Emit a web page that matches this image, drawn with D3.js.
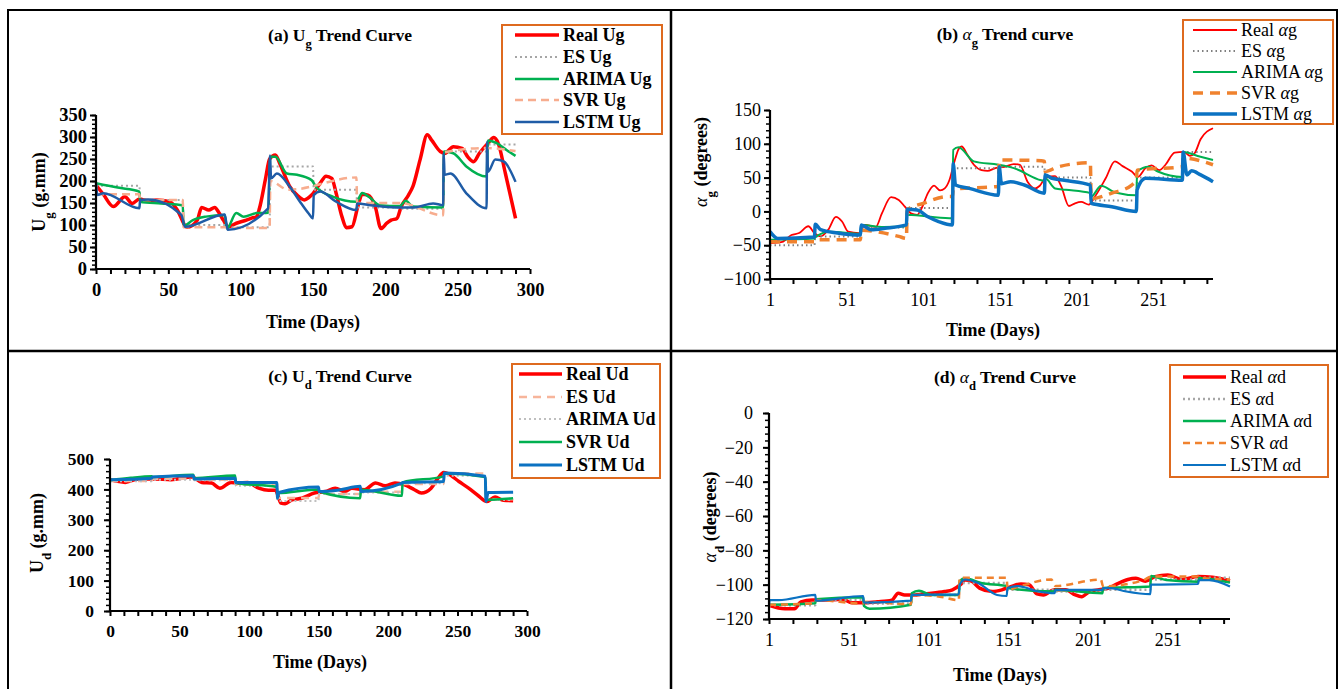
<!DOCTYPE html>
<html>
<head>
<meta charset="utf-8">
<script src="https://cdn.jsdelivr.net/npm/d3@7"></script>
<style>
  body { margin: 0; background: #fff; }
</style>
</head>
<body>
<svg id="fig" width="1341" height="689"></svg>
<script>
// ---------- data: [day, value] ----------

// (a) Ug
var realUg = [[0,191],[5,170],[12,142],[20,164],[25,149],[30,159],[36,155],[42,157],[51,153],[56,135],[63,95],[70,111],[73,140],[78,134],[82,140],[85,128],[88,111],[91.5,96],[97,104],[104,111],[108,116],[111,119],[113,138],[117,202],[120,250],[124,259],[127,240],[134,187],[139,168],[144,157],[149,168],[155,195],[159,211],[163,206],[166,172],[170,119],[173,94],[177,96],[181,142],[184,170],[188,168],[193,142],[197,92],[201,104],[204,111],[208,115],[211,142],[216,168],[219,187],[224,248],[229,305],[232,293],[238,267],[241,263],[247,278],[253,274],[257,255],[261,244],[265,263],[271,286],[275,299],[278,286],[283,217],[290,115]];
var esUg = [[0,189],[30,189],[30.5,157],[60,157],[60.5,100],[90,100],[90.5,95],[120,95],[120.5,233],[150,233],[150.5,180],[180,180],[180.5,140],[210,140],[210.5,137],[240,137],[240.5,267],[270,267],[270.5,283],[290,283]];
var arimaUg = [[0,195],[15,185],[30,176],[30.5,153],[45,149],[60,145],[60.5,98],[67,111],[76,119],[89,123],[90.5,92],[97,127],[102,119],[111,127],[119,128],[120.5,255],[124,255],[132,217],[139,214],[149,202],[152,187],[164,164],[180,153],[184,173],[189,163],[196,145],[210,143],[214,155],[219,142],[240,140],[240.5,267],[247,263],[256,233],[270,210],[271,292],[277,286],[284,270],[290,257]];
var svrUg = [[0,170],[30,170],[30.5,157],[60,157],[60.5,95],[90,95],[90.5,93],[120,93],[120.5,200],[133,180],[180,208],[180.5,150],[210,150],[240,122],[240.5,265],[270,275],[290,268]];
var lstmUg = [[0,195],[1,168],[5,172],[30,138],[30.5,157],[36,158],[59,123],[61.5,96],[89,124],[91,89],[119,138],[120.3,258],[121,206],[125,217],[134,187],[141,153],[147,126],[150,115],[150.5,168],[155,176],[166,153],[180,134],[180.5,149],[190,145],[207,140],[220,140],[233,149],[240,145],[240.3,263],[241,214],[245,217],[256,172],[270,138],[270.3,289],[271,221],[276,249],[282,244],[290,198]];

// (b) alpha g
var realAg = [[1,-47],[9,-45],[15,-35],[20,-32],[26,-22],[30,-32],[34,-37],[39,-27],[44,-8],[48,-15],[52,-30],[59,-32],[63,-20],[70,-23],[74,-3],[80,21],[85,17],[89,7],[93,-3],[97,-5],[100,5],[104,27],[108,38],[112,31],[115,34],[118,46],[121,71],[124,92],[126,96],[130,83],[134,69],[139,61],[143,60],[148,64],[154,66],[160,70],[164,69],[169,44],[174,34],[177,38],[181,50],[187,52],[191,37],[196,8],[200,12],[204,14],[209,10],[213,22],[220,49],[226,74],[231,67],[237,59],[241,51],[246,64],[250,68],[255,61],[259,69],[265,87],[271,88],[275,82],[278,86],[282,107],[290,123]];
var esAg = [[1,-50],[30,-50],[30.5,-37],[60,-37],[60.5,-24],[90,-24],[90.5,5],[120,5],[120.5,64],[150,64],[150.5,66],[180,66],[180.5,50],[210,50],[210.5,16],[240,16],[240.5,50],[270,50],[270.5,88],[290,88]];
var arimaAg = [[1,-42],[30,-40],[30.5,-38],[40,-30],[60,-33],[60.5,-20],[75,-23],[90,-22],[90.5,-5],[118,-10],[120,-10],[120.5,91],[124,95],[134,74],[150,69],[160,64],[178,46],[180,45],[180.5,49],[187,34],[194,32],[210,27],[210.5,22],[217,38],[226,28],[240,24],[240.5,59],[248,66],[254,59],[270,51],[270.5,88],[280,82],[290,76]];
var svrAg = [[1,-45],[30,-45],[30.5,-42],[60,-42],[60.5,-28],[85,-37],[90,-40],[90.5,2],[101,12],[117,22],[120,22],[120.5,33],[150,37],[150.5,76],[178,75],[180,74],[180.5,59],[189,66],[210,72],[210.5,19],[224,27],[237,39],[240,47],[240.5,61],[270,66],[270.5,79],[290,69]];
var lstmAg = [[1,-30],[6,-40],[30,-38],[30.5,-19],[34,-27],[45,-32],[60,-35],[60.5,-20],[67,-27],[76,-25],[90,-20],[90.5,3],[97,2],[104,-8],[111,-15],[120,-20],[120.5,71],[122,39],[131,34],[150,24],[150.5,66],[152,41],[158,44],[167,39],[180,27],[180.5,54],[185,49],[193,46],[210,39],[210.5,12],[224,7],[240,0],[240.5,32],[246,49],[270,46],[270.5,88],[273,54],[276,60],[282,54],[290,44]];

// (c) Ud
var realUd = [[0,432],[11,423],[20,434],[32,434],[44,432],[59,441],[66,423],[73,421],[79,404],[87,423],[92,421],[99,423],[107,404],[114,397],[119,397],[123,355],[126,353],[131,366],[138,371],[147,388],[155,393],[162,404],[169,393],[174,404],[183,399],[191,421],[198,412],[205,421],[212,415],[219,399],[224,388],[231,404],[236,437],[240,456],[243,452],[251,426],[258,404],[265,379],[271,360],[277,375],[283,364],[290,363]];
var esUd = [[0,428],[30,428],[30.5,435],[60,435],[60.5,432],[90,432],[90.5,415],[120,415],[120.5,372],[150,372],[150.5,385],[180,385],[180.5,392],[210,392],[210.5,418],[240,418],[240.5,452],[270,452],[270.5,368],[290,368]];
var arimaUd = [[0,427],[30,427],[30.5,432],[60,432],[60.5,430],[90,430],[90.5,412],[120,412],[120.5,362],[150,362],[150.5,385],[180,385],[180.5,390],[210,390],[210.5,420],[240,420],[240.5,445],[270,445],[270.5,365],[290,365]];
var svrUd = [[0,430],[15,438],[30,443],[30.5,441],[60,448],[60.5,437],[90,446],[90.5,421],[120,408],[120.5,388],[150,400],[150.5,393],[180,371],[180.5,399],[210,379],[210.5,423],[240,443],[240.5,452],[270,441],[270.5,366],[290,371]];
var lstmUd = [[0,432],[30,437],[30.5,441],[60,445],[60.5,434],[90,437],[90.5,423],[120,423],[120.5,371],[121.5,390],[150,408],[150.5,393],[165,398],[180,410],[180.5,393],[210,421],[210.5,423],[240,426],[240.5,454],[270,443],[270.5,360],[272,390],[290,391]];

// (d) alpha d
var realAd = [[1,-112],[11,-114],[17,-114],[21,-110],[28,-109],[36,-109],[47,-108.5],[53,-110.5],[61,-110.5],[69,-110],[78,-109],[82,-105],[86,-106],[92,-106],[97,-105.5],[103,-105],[111,-104],[116,-103],[121,-100],[124,-97.3],[128,-98],[133,-102],[141,-104],[147,-103],[153,-101],[159,-99.6],[164,-100],[169,-105.4],[173,-106],[180,-103],[187,-103],[193,-106],[197,-107],[202,-104],[208,-103],[214,-102],[220,-99.2],[226,-97],[231,-96.3],[237,-98],[243,-95.3],[251,-94.4],[260,-97],[270,-95.3],[279,-95.7],[290,-97.7]];
var esAd = [[1,-112],[30,-112],[30.5,-109],[60,-109],[60.5,-111],[90,-111],[90.5,-106],[120,-106],[120.5,-99],[150,-99],[150.5,-103],[180,-103],[180.5,-104],[210,-104],[210.5,-103],[240,-103],[240.5,-97],[270,-97],[270.5,-96],[290,-96]];
var arimaAd = [[1,-111.7],[30,-110.8],[30.5,-108.5],[60,-107.4],[60.5,-112.4],[64,-114],[90,-111.7],[90.5,-105],[95,-103.5],[103,-106],[120,-106],[120.5,-98],[124,-96.3],[134,-99],[150,-100.8],[150.5,-102],[180,-104],[180.5,-103],[210,-105],[210.5,-102],[240,-101],[240.5,-95],[250,-97.3],[270,-98.3],[270.5,-96.3],[290,-98.8]];
var svrAd = [[1,-111.7],[30,-110.8],[30.5,-109],[60,-111],[60.5,-110],[90,-111.4],[90.5,-106],[108,-107],[120,-109],[120.5,-96],[150,-95.9],[150.5,-103],[158,-101],[178,-97],[180.5,-100.8],[209,-97],[210.5,-101],[236,-97.3],[240.5,-95.3],[270,-95.3],[270.5,-96],[290,-97]];
var lstmAd = [[1,-112],[1.5,-109],[7,-109],[30,-106],[30.5,-109.3],[60,-106.6],[60.5,-110.5],[90,-109.3],[90.5,-106],[120,-105.6],[120.5,-100],[124,-97],[132,-99],[144,-106],[150,-106.6],[150.5,-102],[157,-100.8],[170,-104],[180,-105],[180.5,-103],[210,-103],[210.5,-102],[215,-102],[225,-104],[240,-105.5],[240.5,-100],[270,-99.6],[270.5,-97.3],[277,-97.3],[290,-101]];

// tick values
var linTicks = d3.range(0, 301, 10);
var linLabels = [0, 50, 100, 150, 200, 250, 300];
var catTicks = d3.range(1, 291, 15);
var catLabels = [1, 51, 101, 151, 201, 251];

var FONT = '"Liberation Serif", "Times New Roman", serif';
var svg = d3.select('#fig');

// frame round the four panels
svg.append('rect').attr('x', 8).attr('y', 10).attr('width', 1329).attr('height', 700)
    .attr('fill', 'none').attr('stroke', '#000').attr('stroke-width', 2);
svg.append('line').attr('x1', 671).attr('x2', 671).attr('y1', 10).attr('y2', 689)
    .attr('stroke', '#000').attr('stroke-width', 2.5);
svg.append('line').attr('x1', 8).attr('x2', 1337).attr('y1', 351).attr('y2', 351)
    .attr('stroke', '#000').attr('stroke-width', 2.5);

// text with subscript / italic alpha pieces: [text, sub?, italic?]
function richText(sel, parts) {
    parts.forEach(function (p) {
        var t = sel.append('tspan').text(p[0]);
        if (p[1]) t.attr('baseline-shift', 'sub').attr('font-size', '72%');
        if (p[2]) t.attr('font-style', 'italic').attr('font-weight', 'normal');
    });
}

function styleText(sel, p) {
    sel.selectAll('text').attr('font-family', FONT).attr('font-size', p.tickSize)
        .attr('font-weight', p.tickWeight).attr('fill', '#000');
}

function drawPanel(p) {
    var x = d3.scaleLinear().domain(p.xDomain).range(p.xRange);
    var y = d3.scaleLinear().domain(p.yDomain).range(p.yRange);
    var g = svg.append('g');

    var line = d3.line()
        .x(function (d) { return x(d[0]); })
        .y(function (d) { return y(d[1]); })
        .curve(d3.curveMonotoneX);

    // series, first legend entry at the bottom
    p.series.forEach(function (s) {
        g.append('path')
            .attr('d', line(s.data))
            .attr('fill', 'none')
            .attr('stroke', s.color)
            .attr('stroke-width', s.width)
            .attr('stroke-dasharray', s.dash || null)
            .attr('stroke-linejoin', 'round');
    });

    var x0 = p.xRange[0], y0 = p.yRange[0];

    // y axis: minor then major ticks
    g.append('g').attr('transform', 'translate(' + x0 + ',0)')
        .call(d3.axisLeft(y).tickValues(p.yMinor).tickSize(4).tickFormat(''))
        .call(function (a) { a.select('.domain').remove(); a.selectAll('line').attr('stroke-width', 1.5); });
    var ya = g.append('g').attr('transform', 'translate(' + x0 + ',0)')
        .call(d3.axisLeft(y).tickValues(p.yMajor).tickSize(6).tickPadding(p.yPad).tickFormat(d3.format('d')));
    ya.select('.domain').remove();
    ya.selectAll('line').attr('stroke-width', 2);
    styleText(ya, p);

    // x axis: tick marks, then labels on their own values
    var xt = g.append('g').attr('transform', 'translate(0,' + y0 + ')')
        .call(d3.axisBottom(x).tickValues(p.xTicks).tickSize(5).tickFormat(''));
    xt.select('.domain').remove();
    xt.selectAll('line').attr('stroke-width', 2);
    var xl = g.append('g').attr('transform', 'translate(0,' + y0 + ')')
        .call(d3.axisBottom(x).tickValues(p.xLabels).tickSize(0).tickPadding(14).tickFormat(d3.format('d')));
    xl.select('.domain').remove();
    xl.selectAll('line').remove();
    styleText(xl, p);

    // axis lines
    g.append('line').attr('x1', x0).attr('x2', x0).attr('y1', y0 + 1).attr('y2', p.yRange[1])
        .attr('stroke', '#000').attr('stroke-width', 2.2);
    g.append('line').attr('x1', x0).attr('x2', p.xRange[1]).attr('y1', y0).attr('y2', y0)
        .attr('stroke', '#000').attr('stroke-width', 2.2);

    // title and axis titles
    var t = g.append('text').attr('x', p.title.x).attr('y', p.title.y).attr('text-anchor', 'middle')
        .attr('font-family', FONT).attr('font-size', 17.5).attr('font-weight', 'bold');
    richText(t, p.title.parts);

    g.append('text').attr('x', p.xTitle.x).attr('y', p.xTitle.y).attr('text-anchor', 'middle')
        .attr('font-family', FONT).attr('font-size', 18).attr('font-weight', 'bold')
        .text('Time (Days)');

    var yt = g.append('text')
        .attr('transform', 'translate(' + p.yTitle.x + ',' + p.yTitle.y + ') rotate(-90)')
        .attr('text-anchor', 'middle')
        .attr('font-family', FONT).attr('font-size', 18).attr('font-weight', 'bold');
    richText(yt, p.yTitle.parts);

    // legend
    var L = p.legend;
    g.append('rect').attr('x', L.x).attr('y', L.y).attr('width', L.w).attr('height', L.h)
        .attr('fill', '#fff').attr('stroke', '#DE6A1F').attr('stroke-width', 2);
    p.series.forEach(function (s, i) {
        var ry = L.rows[i];
        g.append('line').attr('x1', L.lx1).attr('x2', L.lx2).attr('y1', ry).attr('y2', ry)
            .attr('stroke', s.color).attr('stroke-width', s.width)
            .attr('stroke-dasharray', s.dash || null);
        var lt = g.append('text').attr('x', L.tx).attr('y', ry).attr('dy', '0.35em')
            .attr('font-family', FONT).attr('font-size', 18).attr('font-weight', L.weight);
        richText(lt, s.label);
    });
}

var RED = '#FF0000', GREEN = '#00B050', BLUE = '#0B72C2', ORANGE = '#F0822E';

drawPanel({
    xDomain: [0, 300], xRange: [96, 530], yDomain: [0, 350], yRange: [269, 115],
    xTicks: linTicks, xLabels: linLabels,
    yMajor: d3.range(0, 351, 50), yMinor: d3.range(0, 351, 10), yPad: 3,
    tickSize: 18.5, tickWeight: 'bold',
    title: { x: 340, y: 41, parts: [['(a) U'], ['g', 1], [' Trend Curve']] },
    xTitle: { x: 313, y: 328 },
    yTitle: { x: 45, y: 192, parts: [['U'], ['g', 1], [' (g.mm)']] },
    legend: { x: 502, y: 25, w: 160, h: 109, rows: [35, 57, 79, 100, 122], lx1: 515, lx2: 559, tx: 563, weight: 'bold' },
    series: [
        { data: realUg, color: RED, width: 3.5, label: [['Real Ug']] },
        { data: esUg, color: '#A6A6A6', width: 2, dash: '2,3', label: [['ES Ug']] },
        { data: arimaUg, color: GREEN, width: 2.5, label: [['ARIMA Ug']] },
        { data: svrUg, color: '#F7AD8F', width: 2.5, dash: '8,5', label: [['SVR Ug']] },
        { data: lstmUg, color: '#1F5CA6', width: 2.5, label: [['LSTM Ug']] }
    ]
});

drawPanel({
    xDomain: [1, 290], xRange: [770, 1213], yDomain: [-100, 150], yRange: [279, 110],
    xTicks: catTicks, xLabels: catLabels,
    yMajor: d3.range(-100, 151, 50), yMinor: d3.range(-100, 151, 10), yPad: 3,
    tickSize: 18, tickWeight: 'normal',
    title: { x: 1005, y: 40, parts: [['(b) '], ['α', 0, 1], ['g', 1], [' Trend curve']] },
    xTitle: { x: 993, y: 336 },
    yTitle: { x: 707, y: 162, parts: [['α', 0, 1], ['g', 1], [' (degrees)']] },
    legend: { x: 1183, y: 20, w: 150, h: 104, rows: [30, 51, 72, 93, 114], lx1: 1193, lx2: 1237, tx: 1241, weight: 'normal' },
    series: [
        { data: realAg, color: RED, width: 1.8, label: [['Real '], ['α', 0, 1], ['g']] },
        { data: esAg, color: '#808080', width: 2, dash: '1.5,3', label: [['ES '], ['α', 0, 1], ['g']] },
        { data: arimaAg, color: GREEN, width: 2, label: [['ARIMA '], ['α', 0, 1], ['g']] },
        { data: svrAg, color: ORANGE, width: 3.5, dash: '10,7', label: [['SVR '], ['α', 0, 1], ['g']] },
        { data: lstmAg, color: BLUE, width: 3.5, label: [['LSTM '], ['α', 0, 1], ['g']] }
    ]
});

drawPanel({
    xDomain: [0, 300], xRange: [110, 527], yDomain: [0, 500], yRange: [611, 459],
    xTicks: linTicks, xLabels: linLabels,
    yMajor: d3.range(0, 501, 100), yMinor: d3.range(0, 501, 20), yPad: 10,
    tickSize: 17.5, tickWeight: 'bold',
    title: { x: 340, y: 382, parts: [['(c) U'], ['d', 1], [' Trend Curve']] },
    xTitle: { x: 320, y: 668 },
    yTitle: { x: 43, y: 533, parts: [['U'], ['d', 1], [' (g.mm)']] },
    legend: { x: 512, y: 364, w: 148, h: 114, rows: [374, 397, 419, 442, 465], lx1: 519, lx2: 562, tx: 566, weight: 'bold' },
    series: [
        { data: realUd, color: RED, width: 3.5, label: [['Real Ud']] },
        { data: esUd, color: '#F7B59B', width: 2.5, dash: '8,6', label: [['ES Ud']] },
        { data: arimaUd, color: '#BFBFBF', width: 2, dash: '2,3', label: [['ARIMA Ud']] },
        { data: svrUd, color: GREEN, width: 2.5, label: [['SVR Ud']] },
        { data: lstmUd, color: BLUE, width: 3, label: [['LSTM Ud']] }
    ]
});

drawPanel({
    xDomain: [1, 290], xRange: [769, 1230], yDomain: [-120, 0], yRange: [619, 413],
    xTicks: catTicks, xLabels: catLabels,
    yMajor: d3.range(-120, 1, 20), yMinor: d3.range(-120, 1, 4), yPad: 10,
    tickSize: 18, tickWeight: 'normal',
    title: { x: 1005, y: 383, parts: [['(d) '], ['α', 0, 1], ['d', 1], [' Trend Curve']] },
    xTitle: { x: 1000, y: 681 },
    yTitle: { x: 716, y: 517, parts: [['α', 0, 1], ['d', 1], [' (degrees)']] },
    legend: { x: 1170, y: 365, w: 158, h: 112, rows: [377, 399, 421, 443, 465], lx1: 1183, lx2: 1226, tx: 1230, weight: 'normal' },
    series: [
        { data: realAd, color: RED, width: 3.5, label: [['Real '], ['α', 0, 1], ['d']] },
        { data: esAd, color: '#A6A6A6', width: 2.5, dash: '2,3', label: [['ES '], ['α', 0, 1], ['d']] },
        { data: arimaAd, color: GREEN, width: 2.5, label: [['ARIMA '], ['α', 0, 1], ['d']] },
        { data: svrAd, color: ORANGE, width: 2.5, dash: '7,5', label: [['SVR '], ['α', 0, 1], ['d']] },
        { data: lstmAd, color: BLUE, width: 2.2, label: [['LSTM '], ['α', 0, 1], ['d']] }
    ]
});
</script>
</body>
</html>
